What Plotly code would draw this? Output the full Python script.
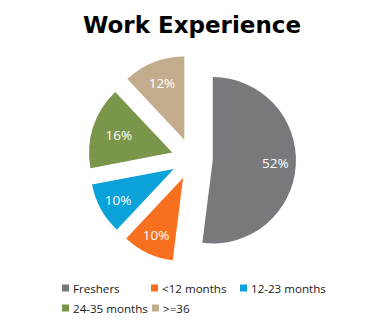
import plotly.graph_objects as go

labels = ["Freshers", "<12 months", "12-23 months", "24-35 months", ">=36"]
values = [52, 10, 10, 16, 12]
colors = ["#78797D", "#F7701F", "#0AA2D9", "#7A964B", "#C3AC8C"]

W, H = 384, 324

# leading non-breaking spaces nudge the big slice's label outward like the reference
label_pad = [12, 0, 0, 0, 0]
templates = ["\u00a0" * p + "%{percent:.0%}" for p in label_pad]

fig = go.Figure()
fig.add_trace(go.Pie(
    labels=labels, values=values, sort=False, direction="clockwise", rotation=0,
    pull=[0.25] * len(values),
    marker=dict(colors=colors, line=dict(width=0)),
    texttemplate=templates,
    textposition="inside", insidetextorientation="horizontal",
    textfont=dict(family="Open Sans", size=13.5, color="white"),
    domain=dict(x=[88 / W, 296 / W], y=[1 - 263 / H, 1 - 55 / H]),
    showlegend=False, hoverinfo="label+percent",
))

# custom legend (square swatch + label), laid out in two rows
legend_pos = [(62, 288), (151, 288), (240, 288), (62, 308), (152, 308)]
for lab, col, (lx, ly) in zip(labels, colors, legend_pos):
    fig.add_shape(type="rect", xref="paper", yref="paper",
                  x0=lx / W, x1=(lx + 7) / W, y0=1 - (ly + 3.5) / H, y1=1 - (ly - 3.5) / H,
                  fillcolor=col, line=dict(width=0))
    fig.add_annotation(x=(lx + 8.5) / W, y=1 - ly / H, xref="paper", yref="paper",
                       text=lab, showarrow=False, xanchor="left", yanchor="middle",
                       font=dict(family="Open Sans", size=11.6, color="#1a1a1a"))

fig.update_layout(
    width=W, height=H, margin=dict(l=0, r=0, t=0, b=0),
    paper_bgcolor="white", plot_bgcolor="white",
    title=dict(text="<b>Work Experience</b>", x=0.5, xanchor="center",
               y=1 - 25 / H, yanchor="middle",
               font=dict(family="DejaVu Sans", size=23, color="black")),
)

fig.write_html("out.html")
